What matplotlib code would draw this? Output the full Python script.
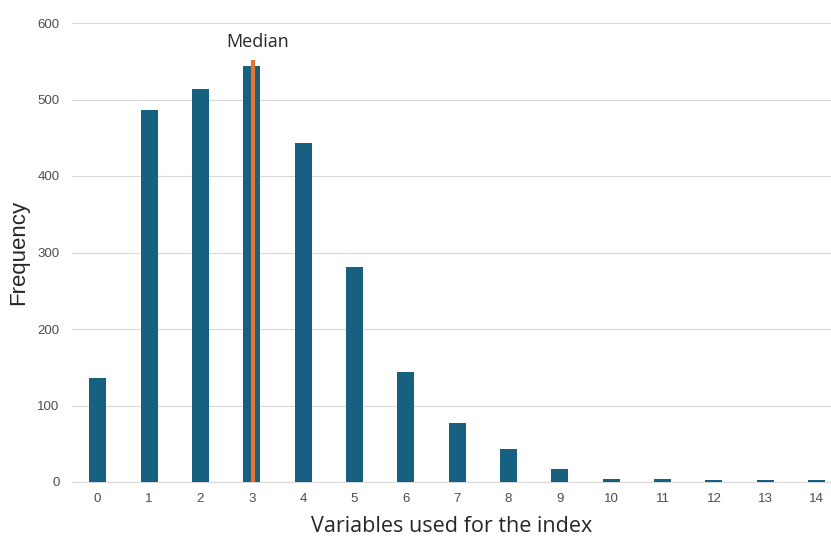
import matplotlib
matplotlib.use("Agg")
import matplotlib.pyplot as plt

categories = list(range(15))
frequency = [136, 486, 514, 544, 443, 281, 144, 77, 43, 17, 4, 4, 3, 3, 2]
median_value = 3
median_height = 552
y_ticks = [0, 100, 200, 300, 400, 500, 600]

fig = plt.figure(figsize=(8.31, 5.37), dpi=100)
ax = fig.add_axes([72/831, 55/537, (831-72)/831, 459/537])

ax.bar(categories, frequency, width=0.33, color="#17607f", zorder=2)
ax.plot([median_value + 0.02, median_value + 0.02], [0, median_height], color="#e97132", lw=3, zorder=3, solid_capstyle="butt")
ax.text(median_value + 0.12, 575, "Median", ha="center", va="center", fontsize=13,
        family="Open Sans", color="#262626")

ax.set_xlim(-0.5, 14.28)
ax.set_ylim(0, 600)
ax.set_yticks(y_ticks)
ax.set_xticks(categories)
ax.grid(axis="y", color="#d9d9d9", lw=0.8, zorder=0)
for s in ["top", "right", "left"]:
    ax.spines[s].set_visible(False)
ax.spines["bottom"].set_color("#d9d9d9")
ax.spines["bottom"].set_zorder(1)
ax.tick_params(axis="x", length=0, labelsize=9.5, labelcolor="#4d4d4d", pad=8)
ax.tick_params(axis="y", length=0, labelsize=9.5, labelcolor="#4d4d4d", pad=9)
for lab in ax.get_xticklabels() + ax.get_yticklabels():
    lab.set_family("Liberation Sans")
ax.set_xlabel("Variables used for the index", fontsize=15.5, family="Open Sans", color="#262626", labelpad=8)
ax.set_ylabel("Frequency", fontsize=16, family="Liberation Sans", color="#262626")
ax.yaxis.set_label_coords(-(72 - 29) / 759, 0.5)

fig.savefig("out.png", dpi=100)
